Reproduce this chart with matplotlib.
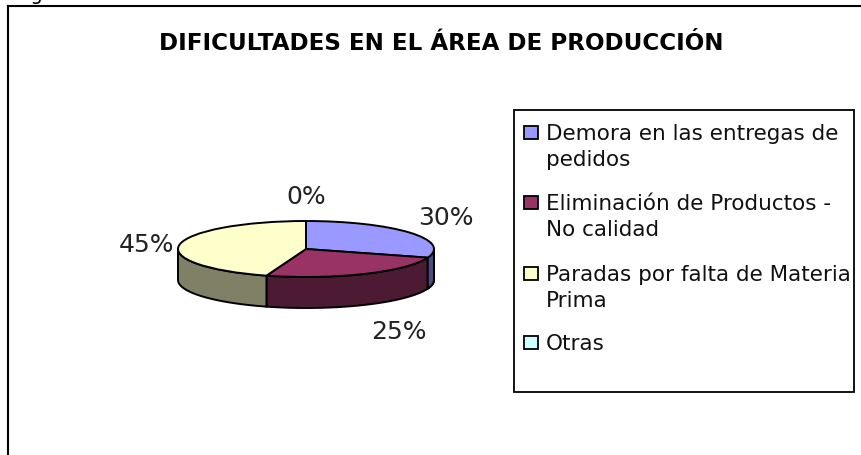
import numpy as np
import matplotlib
matplotlib.use("Agg")
import matplotlib.pyplot as plt
from matplotlib.patches import Rectangle

W, H = 862, 456

title = 'DIFICULTADES EN EL ÁREA DE PRODUCCIÓN'
categories = ['Demora en las entregas de\npedidos', 'Eliminación de Productos -\nNo calidad',
              'Paradas por falta de Materia\nPrima', 'Otras']
values = [30, 25, 45, 0]
top_colors = ['#9999ff', '#993366', '#ffffcc', '#ccffff']
side_colors = ['#4c4c80', '#4c1a33', '#808066', '#668080']
pct_labels = ['30%', '25%', '45%', '0%']
pct_pos = [(446, 218), (399, 332), (147, 245), (306, 197)]
legend_y = [127, 197, 268, 337]

# pie geometry in pixels
cx, cy, rx, ry, depth = 306, 250, 128, 28, 31

fig = plt.figure(figsize=(W / 100, H / 100), dpi=100)
ax = fig.add_axes([0, 0, 1, 1])


def fx(x, y):
    return x / W, 1 - y / H


# side wall first, back to front
d = depth / ry
ang = np.cumsum([0] + values) / sum(values) * 2 * np.pi
for i in range(len(values)):
    a = np.linspace(ang[i], ang[i + 1], 80)
    a = a[(a >= np.pi / 2) & (a <= 3 * np.pi / 2)]
    if len(a) < 2 or values[i] == 0:
        continue
    xs, ys = np.sin(a), np.cos(a)
    ax.fill(np.r_[xs, xs[::-1]], np.r_[ys, ys[::-1] - d], fc=side_colors[i], ec='black', lw=1.4, zorder=2)
# small bit of the first slice's wall
a = np.linspace(np.pi / 2, ang[1], 20)
ax.fill(np.r_[np.sin(a), np.sin(a)[::-1]], np.r_[np.cos(a), np.cos(a)[::-1] - d],
        fc=side_colors[0], ec='black', lw=1.4, zorder=2)

ax.pie(values, colors=top_colors, startangle=90, counterclock=False, radius=1, center=(0, 0),
       frame=True, wedgeprops=dict(edgecolor='black', linewidth=1.4, zorder=3))
ax.set_aspect('auto')
ax.set_xlim((0 - cx) / rx, (W - cx) / rx)
ax.set_ylim((cy - H) / ry, cy / ry)
ax.axis('off')

for lab, p in zip(pct_labels, pct_pos):
    fig.text(*fx(*p), lab, fontsize=18, color='#222222', ha='center', va='center')

# outer frame, only left and top edges are in the crop
fig.add_artist(plt.Line2D([8 / W, 8 / W], [0, 1 - 6.5 / H], color='black', lw=1.5))
fig.add_artist(plt.Line2D([8 / W, 1], [1 - 6.5 / H, 1 - 6.5 / H], color='black', lw=1.5))

fig.text(*fx(441, 43), title, fontsize=16.6, fontweight='bold', color='black', ha='center', va='center')
fig.text(*fx(15, -5), 'Figura 5', fontsize=14, color='black', ha='left', va='center')

# legend
fig.add_artist(Rectangle(fx(514, 393), 340 / W, 282 / H, transform=fig.transFigure, fc='white', ec='black', lw=1.3))
for lab, c, y in zip(categories, top_colors, legend_y):
    fig.add_artist(Rectangle(fx(524, y + 13), 14 / W, 13 / H, transform=fig.transFigure, fc=c, ec='black', lw=1.3))
    fig.text(*fx(546, y - 3), lab, fontsize=15.5, color='#111111', ha='left', va='top', linespacing=1.38)

fig.savefig('out.png', dpi=100)
